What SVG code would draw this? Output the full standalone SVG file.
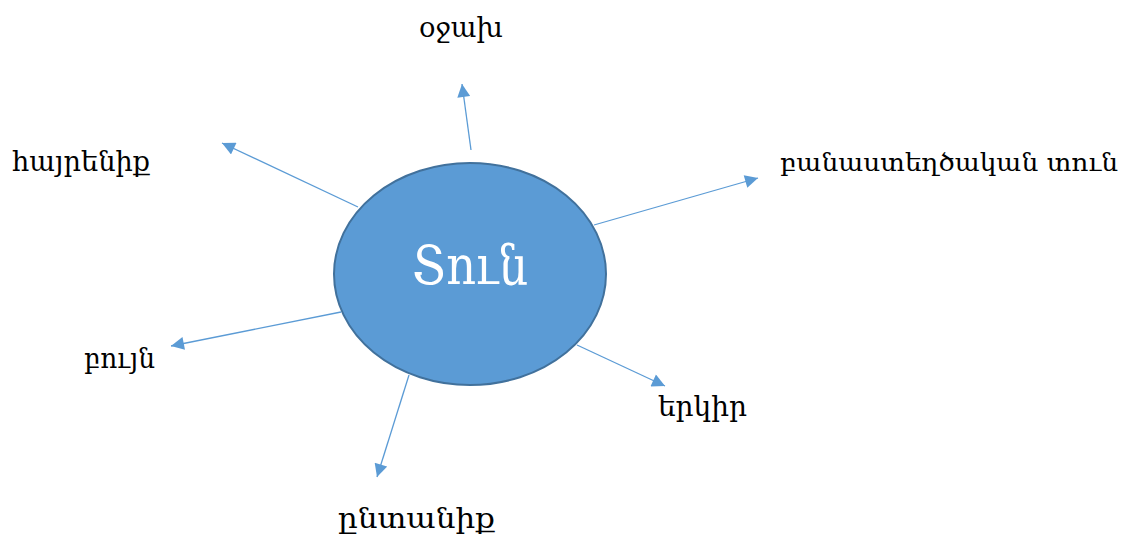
<svg xmlns="http://www.w3.org/2000/svg" width="1130" height="535" viewBox="0 0 1130 535">
<style>
.lbl{font-family:"DejaVu Serif","Noto Serif","Liberation Serif",serif;font-size:28px;fill:#000}
.ctr{font-family:"DejaVu Serif","Noto Serif","Liberation Serif",serif;font-size:55px;fill:#fff}
.con{stroke:#5B9BD5;stroke-width:1.3;fill:none;marker-end:url(#ah)}
</style>
<defs>
<marker id="ah" viewBox="0 0 10 10" refX="10" refY="5" markerWidth="14" markerHeight="13" markerUnits="userSpaceOnUse" orient="auto">
<path d="M0,0 L10,5 L0,10 z" fill="#5B9BD5"/>
</marker>
</defs>
<rect width="1130" height="535" fill="#fff"/>
<g id="connectors">
<line class="con" x1="471" y1="150" x2="462" y2="84"/>
<line class="con" x1="358" y1="207" x2="222" y2="143"/>
<line class="con" x1="594" y1="225" x2="758" y2="178"/>
<line class="con" x1="341" y1="312" x2="171" y2="346"/>
<line class="con" x1="577" y1="345" x2="665" y2="386"/>
<line class="con" x1="409" y1="375" x2="377" y2="477"/>
</g>
<g id="center">
<ellipse cx="470" cy="274" rx="136" ry="111" fill="#5B9BD5" stroke="#41719C" stroke-width="2"/>
<text class="ctr" x="470" y="284" text-anchor="middle" textLength="116" lengthAdjust="spacingAndGlyphs">Տուն</text>
</g>
<g id="n-ojakh"><text class="lbl" x="461" y="37" text-anchor="middle" textLength="84" lengthAdjust="spacingAndGlyphs">օջախ</text></g>
<g id="n-hayrenik"><text class="lbl" x="12" y="171" textLength="138" lengthAdjust="spacingAndGlyphs">հայրենիք</text></g>
<g id="n-banastexcakan"><text class="lbl" x="780" y="171" style="font-size:25px" textLength="338" lengthAdjust="spacingAndGlyphs">բանաստեղծական տուն</text></g>
<g id="n-buyn"><text class="lbl" x="84" y="368" textLength="71" lengthAdjust="spacingAndGlyphs">բույն</text></g>
<g id="n-erkir"><text class="lbl" x="658" y="416" textLength="89" lengthAdjust="spacingAndGlyphs">երկիր</text></g>
<g id="n-yntanik"><text class="lbl" x="338" y="528" textLength="157" lengthAdjust="spacingAndGlyphs">ընտանիք</text></g>
</svg>
